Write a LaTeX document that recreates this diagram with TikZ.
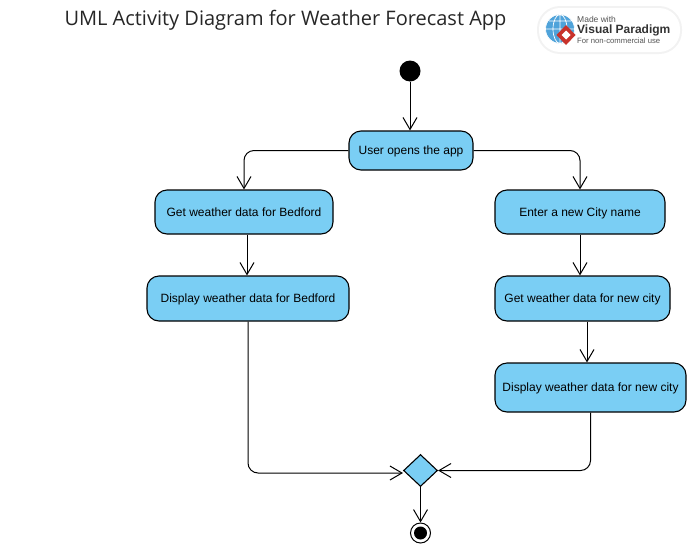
\documentclass[tikz,border=0pt]{standalone}
\usepackage{fontspec}
\setmainfont{Liberation Sans}
\newfontfamily\titlefont{Open Sans}
\usetikzlibrary{shapes.geometric,arrows.meta,calc}
\definecolor{actblue}{HTML}{7ACEF4}
\definecolor{vpred}{HTML}{C8322B}
\definecolor{vpblue}{HTML}{4FA3DA}
\definecolor{vpgrey}{HTML}{555555}
\tikzset{
    action/.style={draw=black, fill=actblue, rounded corners=12, line width=1.1, inner sep=0, text depth=-3pt, font=\fontsize{12}{14}\selectfont},
    flow/.style={line width=1, rounded corners=10, -{Straight Barb[length=12,width=14,line width=1]}},
    merge/.style={draw=black, fill=actblue, diamond, aspect=1, inner sep=0, line width=1.1, minimum width=34, minimum height=32},
}
\begin{document}
\begin{tikzpicture}[x=1pt, y=-1pt]
    \useasboundingbox (0,0) rectangle (687,544);

    % Title
    \node[font=\titlefont\fontsize{20}{24}\selectfont, text=black!85] (title) at (285.5,20.5) {UML Activity Diagram for Weather Forecast App};

    % Badge
    \fill[black!5, rounded corners=23] (537,6) rectangle (682,54);
    \fill[white, rounded corners=21] (539,8) rectangle (680,52);
    \fill[vpblue] (560,29) circle (14.5);
    \draw[white, line width=0.7] (560,29) circle (14.5) (560,14.5) -- (560,43.5) (545.5,29) -- (574.5,29) (560,29) ellipse (7 and 14.5) (549,21) -- (571,21);
    \fill[vpred] (566,25) -- (575.5,35) -- (566,45) -- (556.5,35) -- cycle;
    \fill[white] (566,30.5) -- (570.5,35) -- (566,39.5) -- (561.5,35) -- cycle;
    \node[font=\fontsize{8.5}{10}\selectfont, text=vpgrey, anchor=west, inner sep=0] (vpmade) at (577,19) {Made with};
    \node[font=\bfseries\fontsize{12}{14}\selectfont, text=black!80, anchor=west, inner sep=0] (vpname) at (577,30) {Visual Paradigm};
    \node[font=\fontsize{7.7}{9}\selectfont, text=vpgrey, anchor=west, inner sep=0] (vpuse) at (577,41) {For non-commercial use};

    % Start and end
    \node[circle, fill=black, minimum size=21, inner sep=0] (start) at (410,71) {};
    \node[circle, draw=black, line width=1, fill=white, minimum size=20, inner sep=0] (finish) at (420.5,533) {};
    \node[circle, fill=black, minimum size=13, inner sep=0] (finishdot) at (420.5,533) {};

    % Actions
    \node[action, minimum width=124, minimum height=39] (useropen) at (411,150.5) {User opens the app};
    \node[action, minimum width=178, minimum height=44] (getbed) at (244,212) {Get weather data for Bedford};
    \node[action, minimum width=202, minimum height=45] (showbed) at (248,298.5) {Display weather data for Bedford};
    \node[action, minimum width=170, minimum height=44] (entercity) at (580,212) {Enter a new City name};
    \node[action, minimum width=175, minimum height=45] (getnew) at (582.5,298.5) {Get weather data for new city};
    \node[action, minimum width=191, minimum height=49] (shownew) at (590.5,387.5) {Display weather data for new city};
    \node[merge] (decide) at (420.5,470.5) {};

    % Flows
    \draw[flow] (start) -- (start |- useropen.north);
    \draw[flow] (useropen.west) -| (getbed.north);
    \draw[flow] (useropen.east) -| (entercity.north);
    \draw[flow] ([xshift=3]getbed.south) -- ([xshift=3]getbed.south |- showbed.north);
    \draw[flow] (entercity.south) -- (entercity.south |- getnew.north);
    \draw[flow] ([xshift=4.5]getnew.south) -- ([xshift=4.5]getnew.south |- shownew.north);
    \draw[flow] (showbed.south) |- ([yshift=-2.5]decide.west);
    \draw[flow] (shownew.south) |- (decide.east);
    \draw[flow] (decide.south) -- (finish.north);
\end{tikzpicture}
\end{document}
